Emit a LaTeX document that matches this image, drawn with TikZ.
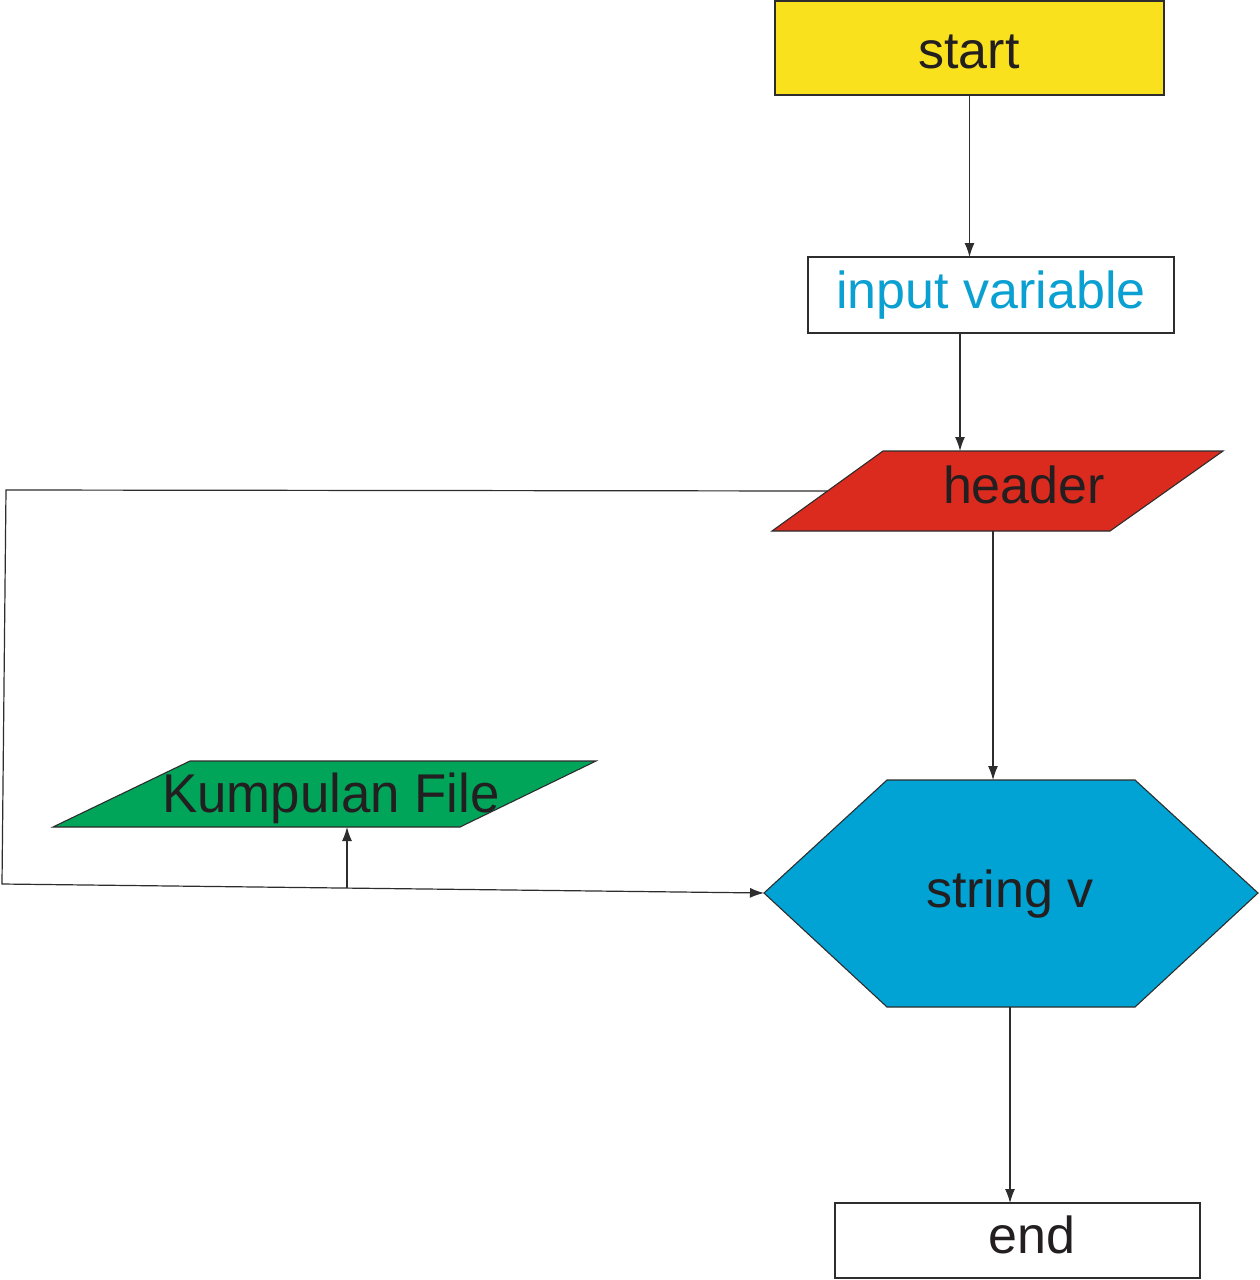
\documentclass[tikz,border=0pt]{standalone}
\usepackage{fontspec}
\setmainfont{Liberation Sans}
\usetikzlibrary{arrows.meta}
\definecolor{cyellow}{RGB}{249,225,30}
\definecolor{cred}{RGB}{219,42,30}
\definecolor{cgreen}{RGB}{0,165,90}
\definecolor{cblue}{RGB}{0,163,212}
\definecolor{tblue}{RGB}{10,160,210}
\definecolor{txt}{RGB}{35,31,32}
\definecolor{linec}{RGB}{45,45,45}
\begin{document}
\begin{tikzpicture}[x=1pt,y=-1pt,line join=miter,
  conn/.style={draw=linec,line width=1.2pt},
  arr/.style={conn,-{Latex[length=14pt,width=10pt]}},
  lbl/.style={anchor=base,font=\fontsize{52}{60}\selectfont,text=txt,inner sep=0pt},
  boxshape/.style={draw=linec,line width=1.1pt,rectangle,outer sep=0pt,inner sep=0pt},
  polyshape/.style={draw=linec,line width=1.1pt}]
\useasboundingbox (0,0) rectangle (1259,1280);
\fill[white] (0,0) rectangle (1259,1280);

% boxes
\node[boxshape,fill=cyellow,minimum width=389pt,minimum height=94pt] (start) at (969.5,48) {};
\node[lbl] (startT) at (969,68) {start};

\node[boxshape,fill=white,minimum width=366pt,minimum height=76pt] (inp) at (991,295) {};
\node[lbl,text=tblue] (inpT) at (991,308) {input variable};

\node[boxshape,fill=white,minimum width=365pt,minimum height=75pt] (end) at (1017.5,1240.5) {};
\node[lbl] (endT) at (1032,1253) {end};

% header parallelogram
\draw[polyshape,fill=cred] (883,451) -- (1223,451) -- (1110,531) -- (772,531) -- cycle;
\node[lbl] (hdrT) at (1024,503) {header};

% Kumpulan File parallelogram
\draw[polyshape,fill=cgreen] (190,761) -- (596,761) -- (460,827) -- (53,827) -- cycle;
\node[lbl,yscale=1.05,xscale=1.015] (kfT) at (331,812) {Kumpulan File};

% hexagon
\draw[polyshape,fill=cblue] (887,780) -- (1135,780) -- (1258,893) -- (1135,1007) -- (887,1007) -- (764,893) -- cycle;
\node[lbl] (hexT) at (1010,907) {string v};

% connection points
\coordinate (hdrTop) at (960,451);
\coordinate (hdrBot) at (993,531);
\coordinate (hdrL) at (827.5,491);
\coordinate (hexTop) at (993,780);
\coordinate (hexBot) at (1010,1007);
\coordinate (hexL) at (764,893);
\coordinate (c1) at (6,490);
\coordinate (c2) at (2,884);
\coordinate (br) at (347,888);
\coordinate (kfBot) at (347,827);

% connectors
\draw[arr] (start.south) -- (start.south |- inp.north);
\draw[arr] (hdrTop |- inp.south) -- (hdrTop);
\draw[arr] (hdrBot) -- (hexTop);
\draw[arr] (hexBot) -- (hexBot |- end.north);
\draw[arr] (hdrL) -- (c1) -- (c2) -- (hexL);
\draw[arr] (br) -- (kfBot);
\end{tikzpicture}
\end{document}
